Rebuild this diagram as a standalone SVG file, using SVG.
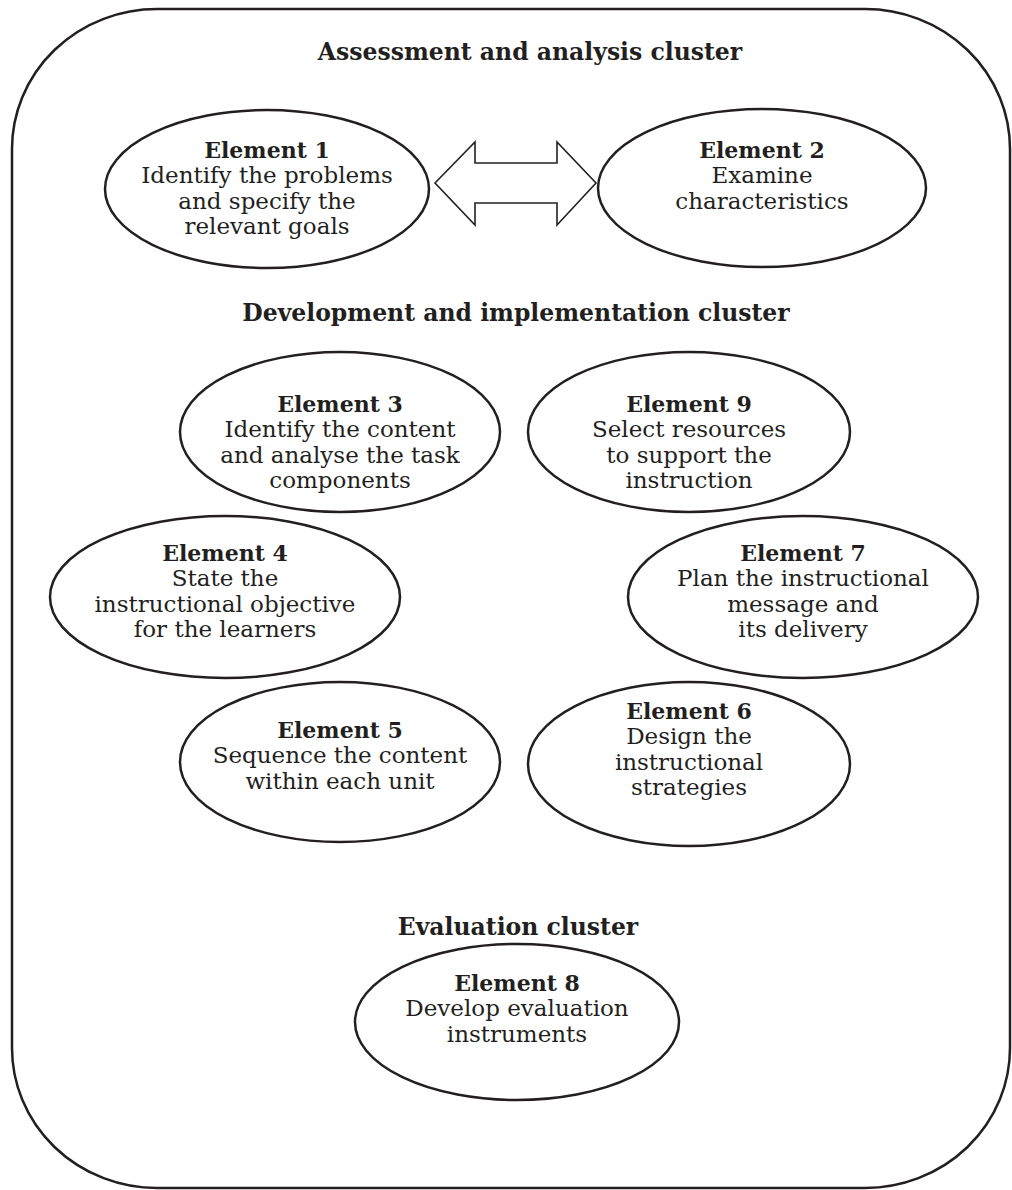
<svg xmlns="http://www.w3.org/2000/svg" width="1012" height="1190" viewBox="0 0 1012 1190">
<style>
.frame{fill:none;stroke:#231f20;stroke-width:2.5}
.node{fill:#fff;stroke:#231f20;stroke-width:2.5}
.arrow{fill:#fff;stroke:#231f20;stroke-width:1.6;stroke-linejoin:miter}
text{font-family:"DejaVu Serif","Liberation Serif",serif;fill:#231f20;text-anchor:middle}
.t{font-size:23.5px;font-weight:bold}
.h{font-size:22px;font-weight:bold}
.b{font-size:23px}
</style>
<rect width="1012" height="1190" fill="#fff"/>
<rect class="frame" x="12" y="9" width="998" height="1179" rx="145" ry="140"/>
<text class="t" x="530" y="60">Assessment and analysis cluster</text>
<text class="t" x="516" y="321">Development and implementation cluster</text>
<text class="t" x="518" y="935">Evaluation cluster</text>
<g id="connectors">
<path class="arrow" d="M435,183 L475,142 L475,163 L557,163 L557,142 L596,183 L557,225 L557,203 L475,203 L475,225 Z"/>
</g>
<g id="e1"><ellipse class="node" cx="267" cy="189" rx="162" ry="79"/>
<text class="h" x="267" y="158">Element 1</text>
<text class="b" x="267" y="183">Identify the problems</text>
<text class="b" x="267" y="209">and specify the</text>
<text class="b" x="267" y="234">relevant goals</text></g>
<g id="e2"><ellipse class="node" cx="762" cy="188" rx="164" ry="79"/>
<text class="h" x="762" y="158">Element 2</text>
<text class="b" x="762" y="183">Examine</text>
<text class="b" x="762" y="209">characteristics</text></g>
<g id="e3"><ellipse class="node" cx="340" cy="432" rx="160" ry="80"/>
<text class="h" x="340" y="412">Element 3</text>
<text class="b" x="340" y="437">Identify the content</text>
<text class="b" x="340" y="463">and analyse the task</text>
<text class="b" x="340" y="488">components</text></g>
<g id="e9"><ellipse class="node" cx="689" cy="432" rx="161" ry="80"/>
<text class="h" x="689" y="412">Element 9</text>
<text class="b" x="689" y="437">Select resources</text>
<text class="b" x="689" y="463">to support the</text>
<text class="b" x="689" y="488">instruction</text></g>
<g id="e4"><ellipse class="node" cx="225" cy="597" rx="175" ry="81"/>
<text class="h" x="225" y="561">Element 4</text>
<text class="b" x="225" y="586">State the</text>
<text class="b" x="225" y="612">instructional objective</text>
<text class="b" x="225" y="637">for the learners</text></g>
<g id="e7"><ellipse class="node" cx="803" cy="597" rx="175" ry="81"/>
<text class="h" x="803" y="561">Element 7</text>
<text class="b" x="803" y="586">Plan the instructional</text>
<text class="b" x="803" y="612">message and</text>
<text class="b" x="803" y="637">its delivery</text></g>
<g id="e5"><ellipse class="node" cx="340" cy="762" rx="160" ry="80"/>
<text class="h" x="340" y="738">Element 5</text>
<text class="b" x="340" y="763">Sequence the content</text>
<text class="b" x="340" y="789">within each unit</text></g>
<g id="e6"><ellipse class="node" cx="689" cy="764" rx="161" ry="82"/>
<text class="h" x="689" y="719">Element 6</text>
<text class="b" x="689" y="744">Design the</text>
<text class="b" x="689" y="770">instructional</text>
<text class="b" x="689" y="795">strategies</text></g>
<g id="e8"><ellipse class="node" cx="517" cy="1022" rx="162" ry="78"/>
<text class="h" x="517" y="991">Element 8</text>
<text class="b" x="517" y="1016">Develop evaluation</text>
<text class="b" x="517" y="1042">instruments</text></g>
</svg>
